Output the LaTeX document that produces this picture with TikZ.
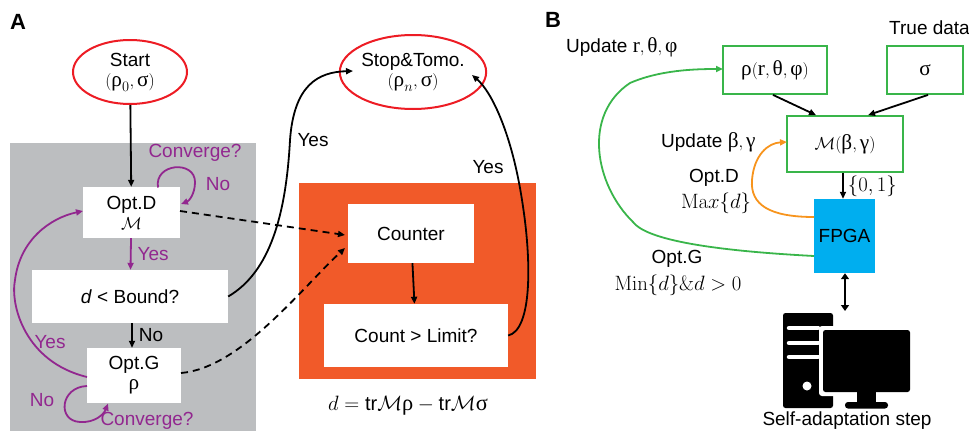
\documentclass[tikz,border=0pt]{standalone}
\usepackage[no-math]{fontspec}
\usepackage{amsmath}
\setmainfont{Liberation Sans}
\newfontfamily\grk{Liberation Serif}[Scale=1.12]
\usetikzlibrary{arrows.meta,shapes.geometric}
\newcommand\gr[1]{\mbox{\grk #1}}
\definecolor{cgray}{HTML}{BCBEC0}
\definecolor{corange}{HTML}{F15A29}
\definecolor{cred}{HTML}{ED1C24}
\definecolor{cpurple}{HTML}{92278F}
\definecolor{cgreen}{HTML}{39B54A}
\definecolor{ccyan}{HTML}{00AEEF}
\definecolor{cyell}{HTML}{F7941D}
\begin{document}
\begin{tikzpicture}[x=1pt,y=-1pt,font=\fontsize{19}{21}\selectfont,
  tip/.style={-{Triangle[length=7pt,width=6pt]}},
  wbox/.style={fill=white,draw=none,align=center,inner sep=0pt},
  oval/.style={ellipse,draw=cred,line width=2pt,fill=white,align=center,inner sep=0pt},
  gbox/.style={draw=cgreen,line width=1.8pt,fill=white,align=center,inner sep=0pt},
  blk/.style={black,line width=1.8pt,tip},
  pur/.style={cpurple,line width=1.8pt,tip},
  dsh/.style={black,line width=1.8pt,dash pattern=on 7pt off 5pt,tip},
  ptxt/.style={text=cpurple,inner sep=0pt},
  lbl/.style={inner sep=0pt},
  mth/.style={font=\fontsize{20}{22}\selectfont,inner sep=0pt},
  panel/.style={font=\fontsize{22}{24}\selectfont\bfseries,inner sep=0pt}]
\useasboundingbox (0,0) rectangle (969,431);
% backgrounds
\fill[cgray] (10,143) rectangle (256,431);
\fill[corange] (299,183) rectangle (536,379);
\node[panel] (pa) at (18,22) {A};
\node[panel] (pb) at (553,20) {B};
% left nodes
\node[oval,minimum width=114pt,minimum height=64pt] (start) at (130,72) {Start\\[-1pt]$(\gr{ρ}_0,\gr{σ})$};
\node[wbox,minimum width=97pt,minimum height=51pt] (optd) at (131.5,212.5) {Opt.D\\[-1pt]$\mathcal{M}$};
\node[wbox,minimum width=196pt,minimum height=53pt] (bound) at (130,296.5) {\textit{d} < Bound?};
\node[wbox,minimum width=94pt,minimum height=55pt] (optg) at (134,375.5) {Opt.G\\[-1pt]$\gr{ρ}$};
\node[oval,minimum width=118pt,minimum height=74pt] (stop) at (413,72) {Stop\&Tomo.\\[-1pt]$(\gr{ρ}_n,\gr{σ})$};
\node[wbox,minimum width=126pt,minimum height=59pt] (counter) at (411,233.5) {Counter};
\node[wbox,minimum width=184pt,minimum height=63pt] (limit) at (416,335.5) {Count > Limit?};
% left connectors
\draw[blk] (start) -- (optd);
\draw[pur] (optd) -- (bound) node[ptxt,midway,right=6pt] (y1) {Yes};
\draw[blk] ([xshift=2pt]bound.south) -- ([xshift=-2pt]optg.north) node[lbl,midway,right=6pt] (n1) {No};
\draw[pur] (158,187.5) .. controls (154,163) and (195,160) .. (195,182) .. controls (195,194) and (189,201) .. (181,204);
\node[ptxt] (c1) at (195,153) {Converge?};
\node[ptxt] (n2) at (218,184) {No};
\draw[pur] (87,386) .. controls (60,387) and (57,421) .. (80,422) .. controls (95,423) and (104,414) .. (108,403.5);
\node[ptxt] (n3) at (42,400) {No};
\node[ptxt] (c2) at (147,421) {Converge?};
\draw[pur] (87,377) .. controls (25,362) and (10,305) .. (15,280) .. controls (20,240) and (50,218) .. (83,211);
\node[ptxt] (y2) at (50,342) {Yes};
\draw[dsh] (180,211) -- (345,235);
\draw[dsh] (181,373) .. controls (240,368) and (300,290) .. (345,248);
\draw[blk] (bound.east) .. controls (270,272) and (286,215) .. (290,140) .. controls (294,85) and (318,72) .. (353,71);
\node[lbl] (y3) at (313,140) {Yes};
\draw[blk] (counter) -- (limit);
\draw[blk] (limit.east) .. controls (532,330) and (532,262) .. (522,200) .. controls (512,135) and (492,92) .. (472,75);
\node[lbl] (y4) at (488,167) {Yes};
\node[mth] (formula) at (408,406) {$d=\text{tr}\mathcal{M}\gr{ρ}-\text{tr}\mathcal{M}\gr{σ}$};
% right nodes
\node[gbox,minimum width=104pt,minimum height=48pt] (rho) at (775,70) {$\gr{ρ}(\gr{r},\gr{θ},\gr{φ})$};
\node[gbox,minimum width=76pt,minimum height=48pt] (sig) at (925,70) {$\gr{σ}$};
\node[gbox,minimum width=116pt,minimum height=56pt] (mm) at (845,144) {$\mathcal{M}(\gr{β},\gr{γ})$};
\node[fill=ccyan,minimum width=61pt,minimum height=74pt,inner sep=0pt] (fpga) at (844.5,236) {FPGA};
\node[lbl,anchor=west] (ur) at (566,47) {Update $\gr{r},\gr{θ},\gr{φ}$};
\node[lbl,anchor=west] (td) at (889,28) {True data};
\node[lbl,anchor=west] (ub) at (661,142) {Update $\gr{β},\gr{γ}$};
\node[lbl] (od) at (714,178) {Opt.D};
\node[mth] (md) at (716,203) {$\mathrm{Ma}x\{d\}$};
\node[lbl] (og) at (677,259) {Opt.G};
\node[mth] (mg) at (678,285) {$\mathrm{Min}\{d\}\&d>0$};
\draw[blk] ([xshift=-2pt]rho.south) -- ([xshift=-29pt]mm.north);
\draw[blk] ([xshift=3pt]sig.south) -- ([xshift=23pt]mm.north);
\draw[blk] ([xshift=-2pt]mm.south) -- ([xshift=-1.5pt]fpga.north) node[mth,midway,right=4pt] (zo) {$\{0,1\}$};
\draw[cyell,line width=1.8pt,tip] (814,217) .. controls (770,217) and (750,205) .. (752,180) .. controls (754,155) and (768,143) .. (787,142);
\draw[cgreen,line width=1.8pt,tip] (814,256) .. controls (700,250) and (645,238) .. (633,222) .. controls (595,185) and (582,115) .. (630,83) .. controls (660,70) and (695,69) .. (723,69);
% computer
\coordinate (pc) at (845,311);
\draw[black,line width=2.8pt,{Triangle[length=6pt,width=8pt]}-{Triangle[length=6pt,width=8pt]}] ([xshift=0.5pt]fpga.south) -- (pc);
\fill[black,rounded corners=2.5pt] (783,313) rectangle (833,408);
\fill[white,rounded corners=3pt] (819,326) rectangle (914,396);
\draw[white,line width=4.5pt,line cap=round] (789,328) -- (818,328) (789,343) -- (818,343) (789,357) -- (818,357);
\fill[white] (807,386) circle (4.5pt);
\fill[black,rounded corners=2.5pt] (823,330) rectangle (910,392);
\fill[black] (857,391) rectangle (876,403);
\fill[black,rounded corners=3pt] (845,402) rectangle (888,408.5);
\node[lbl] (sa) at (847,421) {Self-adaptation step};
\end{tikzpicture}
\end{document}
